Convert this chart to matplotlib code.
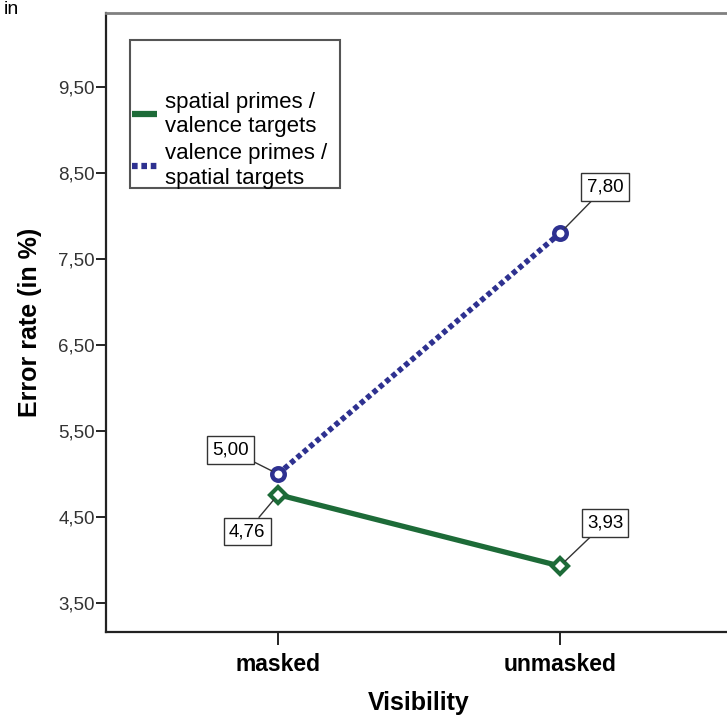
import matplotlib.pyplot as plt
from matplotlib.patches import Rectangle
from matplotlib.lines import Line2D

# Data
visibility = ['masked', 'unmasked']
spatial_primes = [4.76, 3.93]     # spatial primes / valence targets
valence_primes = [5.00, 7.80]     # valence primes / spatial targets
yticks = [3.5, 4.5, 5.5, 6.5, 7.5, 8.5, 9.5]
series_labels = ['spatial primes /\nvalence targets', 'valence primes /\nspatial targets']

green = '#1d6b38'
navy = '#2e3190'
dots = (0, (0.9, 0.6))

plt.rcParams['font.family'] = ['Liberation Sans', 'DejaVu Sans']

W, H = 727, 715
fig = plt.figure(figsize=(W / 100, H / 100), dpi=100)
ax = fig.add_axes([106 / W, 1 - 632 / H, (732 - 106) / W, (632 - 13) / H])

x = list(range(len(visibility)))
ax.plot(x, spatial_primes, color=green, lw=3.8, marker='D', ms=8,
        mfc='white', mec=green, mew=3, solid_capstyle='butt', zorder=3)
ax.plot(x, valence_primes, color=navy, lw=4, ls=dots, marker='o', ms=9,
        mfc='white', mec=navy, mew=3.2, zorder=3)

ax.set_xlim(-0.61, 1.61)
ax.set_ylim(3.163, 10.36)
ax.set_xticks(x)
ax.set_xticklabels(visibility, fontsize=16.5, fontweight='bold')
ax.set_yticks(yticks)
ax.set_yticklabels([f'{v:.2f}'.replace('.', ',') for v in yticks], fontsize=13.5,
                   color='#333333')
ax.tick_params(axis='y', length=7, width=1.2, pad=1)
ax.tick_params(axis='x', length=9, width=1.2, pad=6)
ax.set_xlabel('Visibility', fontsize=18, fontweight='bold', labelpad=11)
ax.set_ylabel('Error rate (in %)', fontsize=18, fontweight='bold', labelpad=12)
ax.spines['right'].set_visible(False)
ax.spines['top'].set_color('#808080')
ax.spines['top'].set_linewidth(2)
ax.spines['left'].set_linewidth(1.6)
ax.spines['bottom'].set_linewidth(1.6)
ax.spines['left'].set_color('#222222')
ax.spines['bottom'].set_color('#222222')

# value labels
offsets = {
    (0, 5.00): (-34.5, 17.3),
    (0, 4.76): (-22.3, -26.6),
    (1, 7.80): (32.4, 33.1),
    (1, 3.93): (32.4, 31.0),
}
for (xi, yi), off in offsets.items():
    ax.annotate(f'{yi:.2f}'.replace('.', ','), xy=(xi, yi), xytext=off,
                textcoords='offset points', ha='center', va='center', fontsize=13.5,
                bbox=dict(boxstyle='square,pad=0.28', fc='white', ec='#333333', lw=1),
                arrowprops=dict(arrowstyle='-', color='#333333', lw=1,
                                shrinkA=0, shrinkB=5),
                zorder=5)

# legend box
fig.patches.append(Rectangle((130 / W, 1 - 188 / H), 210 / W, 148 / H,
                             transform=fig.transFigure, fill=False,
                             ec='#555555', lw=1.5))
handles = [Line2D([], [], color=green, lw=4.5, solid_capstyle='butt'),
           Line2D([], [], color=navy, lw=4.5, ls=dots)]
fig.legend(handles, series_labels, loc='lower left',
           bbox_to_anchor=(129 / W, 1 - 192 / H),
           frameon=False, fontsize=16, handlelength=1.1, handletextpad=0.35,
           borderaxespad=0, borderpad=0.15, labelspacing=0.3)

fig.text(4 / W, 1 - 1 / H, 'in', fontsize=14, va='top', ha='left')

fig.savefig('out.png', dpi=100)
